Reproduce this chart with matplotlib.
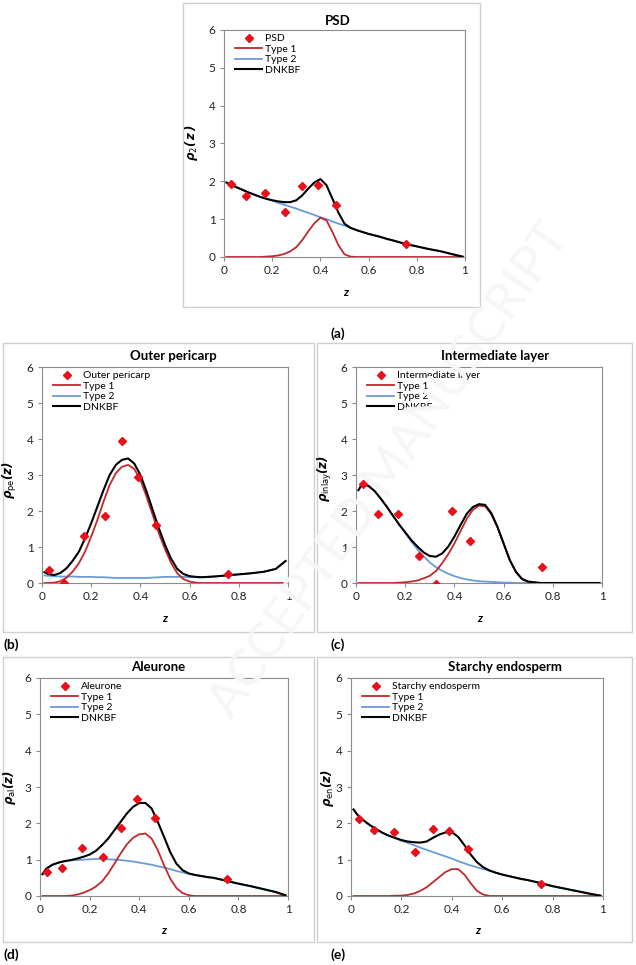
import matplotlib
matplotlib.use('Agg')
import matplotlib.pyplot as plt
from matplotlib.patches import Rectangle

# =============================================================================
# DATA
# =============================================================================

Z = [0.01, 0.025, 0.05, 0.075, 0.1, 0.125, 0.15, 0.175, 0.2, 0.225, 0.25,
     0.275, 0.3, 0.325, 0.35, 0.375, 0.4, 0.425, 0.45, 0.475, 0.5, 0.525,
     0.55, 0.575, 0.6, 0.625, 0.65, 0.675, 0.7, 0.75, 0.8, 0.85, 0.9, 0.95, 0.99]

Z_PTS = [0.03, 0.09, 0.17, 0.255, 0.325, 0.39, 0.465, 0.755]

# (a) PSD
PSD_PTS = [1.92, 1.62, 1.70, 1.19, 1.87, 1.91, 1.37, 0.34]
PSD_T1 = [0, 0, 0, 0, 0, 0, 0, 0.01, 0.02, 0.04, 0.08, 0.15, 0.26, 0.45, 0.68,
          0.89, 1.04, 0.97, 0.66, 0.31, 0.07, 0.01, 0, 0, 0, 0, 0, 0, 0, 0, 0,
          0, 0, 0, 0]
PSD_T2 = [1.97, 1.92, 1.85, 1.78, 1.71, 1.65, 1.59, 1.54, 1.49, 1.43, 1.38,
          1.33, 1.28, 1.22, 1.17, 1.11, 1.05, 1.00, 0.94, 0.88, 0.83, 0.77,
          0.71, 0.66, 0.61, 0.57, 0.53, 0.48, 0.44, 0.35, 0.28, 0.21, 0.15,
          0.07, 0.01]
PSD_FIT = [1.97, 1.92, 1.85, 1.78, 1.71, 1.65, 1.59, 1.54, 1.50, 1.47, 1.45,
           1.45, 1.50, 1.63, 1.81, 1.97, 2.06, 1.90, 1.54, 1.17, 0.88, 0.77,
           0.71, 0.66, 0.61, 0.57, 0.53, 0.48, 0.44, 0.35, 0.28, 0.21, 0.15,
           0.07, 0.01]

# (b) Outer pericarp
PE_PTS = [0.36, 0.0, 1.30, 1.85, 3.94, 2.94, 1.62, 0.25]
PE_T1 = [0, 0, 0.01, 0.05, 0.15, 0.32, 0.55, 0.87, 1.29, 1.75, 2.26, 2.72,
         3.05, 3.23, 3.28, 3.17, 2.86, 2.40, 1.89, 1.38, 0.94, 0.55, 0.27,
         0.11, 0.04, 0.01, 0, 0, 0, 0, 0, 0, 0, 0, 0]
PE_T2 = [0.21, 0.20, 0.19, 0.18, 0.18, 0.18, 0.17, 0.17, 0.17, 0.16, 0.16,
         0.15, 0.14, 0.14, 0.14, 0.14, 0.14, 0.14, 0.15, 0.16, 0.17, 0.17,
         0.17, 0.17, 0.16, 0.16, 0.16, 0.17, 0.18, 0.21, 0.24, 0.27, 0.31,
         0.39, 0.61]
PE_FIT = [0.30, 0.25, 0.22, 0.28, 0.41, 0.62, 0.87, 1.24, 1.66, 2.12, 2.58,
          3.00, 3.28, 3.42, 3.46, 3.32, 3.00, 2.54, 2.03, 1.52, 1.06, 0.67,
          0.39, 0.25, 0.19, 0.17, 0.16, 0.17, 0.18, 0.21, 0.24, 0.27, 0.31,
          0.39, 0.61]

# (c) Intermediate layer
IL_PTS = [2.74, 1.91, 1.92, 0.75, -0.02, 2.00, 1.18, 0.44]
IL_T1 = [0, 0, 0, 0, 0, 0, 0, 0.01, 0.02, 0.04, 0.07, 0.13, 0.20, 0.33, 0.55,
         0.80, 1.10, 1.44, 1.78, 2.03, 2.15, 2.13, 1.91, 1.55, 1.09, 0.64,
         0.31, 0.11, 0.03, 0, 0, 0, 0, 0, 0]
IL_T2 = [2.58, 2.75, 2.70, 2.56, 2.35, 2.12, 1.87, 1.62, 1.39, 1.15, 0.93,
         0.74, 0.57, 0.44, 0.34, 0.26, 0.19, 0.14, 0.10, 0.07, 0.05, 0.04,
         0.03, 0.02, 0.01, 0.01, 0, 0, 0, 0, 0, 0, 0, 0, 0]
IL_FIT = [2.58, 2.75, 2.70, 2.56, 2.35, 2.12, 1.87, 1.63, 1.41, 1.19, 1.01,
          0.85, 0.75, 0.73, 0.82, 1.01, 1.29, 1.61, 1.92, 2.11, 2.19, 2.17,
          1.94, 1.56, 1.10, 0.64, 0.31, 0.11, 0.04, 0, 0, 0, 0, 0, 0]

# (d) Aleurone
AL_PTS = [0.65, 0.78, 1.33, 1.07, 1.87, 2.67, 2.14, 0.47]
AL_T1 = [0, 0, 0, 0, 0, 0.01, 0.04, 0.09, 0.16, 0.26, 0.40, 0.62, 0.89, 1.17,
         1.42, 1.60, 1.70, 1.72, 1.58, 1.26, 0.85, 0.48, 0.22, 0.08, 0.02, 0,
         0, 0, 0, 0, 0, 0, 0, 0, 0]
AL_T2 = [0.60, 0.75, 0.86, 0.92, 0.96, 0.98, 0.99, 1.00, 1.01, 1.02, 1.02,
         1.01, 1.00, 0.99, 0.97, 0.95, 0.92, 0.89, 0.86, 0.82, 0.78, 0.74,
         0.69, 0.65, 0.61, 0.58, 0.55, 0.52, 0.50, 0.42, 0.34, 0.27, 0.19,
         0.11, 0.02]
AL_FIT = [0.60, 0.75, 0.86, 0.92, 0.96, 0.99, 1.03, 1.08, 1.14, 1.24, 1.40,
          1.58, 1.81, 2.04, 2.27, 2.45, 2.56, 2.56, 2.41, 2.04, 1.63, 1.21,
          0.89, 0.71, 0.62, 0.58, 0.55, 0.52, 0.50, 0.42, 0.34, 0.27, 0.19,
          0.11, 0.02]

# (e) Starchy endosperm
EN_PTS = [2.12, 1.81, 1.77, 1.20, 1.85, 1.78, 1.29, 0.34]
EN_T1 = [0, 0, 0, 0, 0, 0, 0, 0.01, 0.01, 0.03, 0.07, 0.14, 0.24, 0.38, 0.52,
         0.66, 0.74, 0.74, 0.59, 0.35, 0.14, 0.04, 0, 0, 0, 0, 0, 0, 0, 0, 0,
         0, 0, 0, 0]
EN_T2 = [2.38, 2.24, 2.08, 1.95, 1.84, 1.74, 1.66, 1.59, 1.52, 1.46, 1.40,
         1.33, 1.27, 1.21, 1.15, 1.09, 1.03, 0.96, 0.90, 0.84, 0.79, 0.74,
         0.70, 0.64, 0.59, 0.55, 0.51, 0.47, 0.44, 0.36, 0.27, 0.20, 0.13,
         0.06, 0.01]
EN_FIT = [2.38, 2.24, 2.08, 1.95, 1.84, 1.74, 1.66, 1.60, 1.54, 1.50, 1.48,
          1.47, 1.50, 1.60, 1.69, 1.75, 1.76, 1.63, 1.40, 1.14, 0.93, 0.79,
          0.70, 0.64, 0.59, 0.55, 0.51, 0.47, 0.44, 0.36, 0.27, 0.20, 0.13,
          0.06, 0.01]

# =============================================================================
# LAYOUT (figure pixels)
# =============================================================================

W, H = 636, 965
FONT = 'Lato'

C_PTS = '#e8101a'
C_T1 = '#c0282b'
C_T2 = '#6b9bd6'
C_FIT = '#000000'
C_FRAME = '#cfcfcf'


def fx(x):
    return x / W


def fy(y):
    return 1 - y / H


def panel(fig, box, frame, data, title, title_xy, ylab, ylab_xy, xlab_xy, tag, tag_xy):
    x0, y0, x1, y1 = box
    ax = fig.add_axes([fx(x0), fy(y1), fx(x1) - fx(x0), fy(y0) - fy(y1)])
    ax.patch.set_alpha(0)

    fr = Rectangle((fx(frame[0]), fy(frame[3])), fx(frame[2]) - fx(frame[0]),
                   fy(frame[1]) - fy(frame[3]), transform=fig.transFigure,
                   fill=False, edgecolor=C_FRAME, linewidth=1.0, zorder=0)
    fig.patches.append(fr)

    pts, t1, t2, fit, name = data
    ax.plot(Z_PTS, pts, linestyle='none', marker='D', markersize=4.2,
            color=C_PTS, label=name, zorder=5)
    ax.plot(Z, t1, color=C_T1, linewidth=1.3, label='Type 1', zorder=3)
    ax.plot(Z, t2, color=C_T2, linewidth=1.3, label='Type 2', zorder=2)
    ax.plot(Z, fit, color=C_FIT, linewidth=1.5, label='DNKBF', zorder=4)

    ax.set_xlim(0, 1)
    ax.set_ylim(0, 6)
    ax.set_xticks([0, 0.2, 0.4, 0.6, 0.8, 1])
    ax.set_xticklabels(['0', '0.2', '0.4', '0.6', '0.8', '1'])
    ax.set_yticks(range(7))
    for s in ax.spines.values():
        s.set_color('#8c8c8c')
        s.set_linewidth(0.8)
    ax.tick_params(axis='both', direction='out', length=3, width=0.8,
                   color='#8c8c8c', labelsize=8.5, pad=3, labelcolor='#222222')
    for lab in ax.get_xticklabels() + ax.get_yticklabels():
        lab.set_family(FONT)

    leg = ax.legend(loc='upper left', bbox_to_anchor=(0.02, 1.01), frameon=False,
                    fontsize=7.5, handlelength=2.6, handletextpad=0.3,
                    labelspacing=0.12, borderaxespad=0.2)
    for t in leg.get_texts():
        t.set_family(FONT)

    fig.text(fx(title_xy[0]), fy(title_xy[1]), title, ha='center', va='center',
             fontsize=9.5, fontweight='bold', family=FONT)
    fig.text(fx(ylab_xy[0]), fy(ylab_xy[1]), ylab, ha='center', va='center',
             rotation=90, fontsize=8.5)
    fig.text(fx(xlab_xy[0]), fy(xlab_xy[1]), 'z', ha='center', va='center',
             fontsize=8.5, fontweight='bold', fontstyle='italic', family=FONT)
    fig.text(fx(tag_xy[0]), fy(tag_xy[1]), tag, ha='center', va='center',
             fontsize=10, fontweight='bold', family=FONT)
    return ax


def main():
    plt.rcParams['mathtext.fontset'] = 'custom'
    plt.rcParams['mathtext.bf'] = 'DejaVu Sans:italic:bold'
    plt.rcParams['mathtext.rm'] = 'DejaVu Sans'

    fig = plt.figure(figsize=(W / 100, H / 100), dpi=100)

    # faint watermark
    fig.text(fx(390), fy(470), 'ACCEPTED MANUSCRIPT', ha='center', va='center',
             rotation=55, fontsize=36, color='#f6f6f6', family=FONT, zorder=0)

    panel(fig, (224, 30, 465, 257), (183, 3, 480, 307),
          (PSD_PTS, PSD_T1, PSD_T2, PSD_FIT, 'PSD'),
          'PSD', (338, 21), r'$\mathbf{\rho}_{\mathrm{2}}\mathbf{(\,z\,)}$', (192, 143),
          (346, 293), '(a)', (338, 334))

    panel(fig, (42, 367, 288, 583), (3, 343, 314, 632),
          (PE_PTS, PE_T1, PE_T2, PE_FIT, 'Outer pericarp'),
          'Outer pericarp', (173, 356), r'$\mathbf{\rho}_{\mathrm{pe}}\mathbf{(z)}$', (10, 480),
          (165, 618), '(b)', (11, 645))

    panel(fig, (356, 367, 602, 583), (317, 343, 632, 632),
          (IL_PTS, IL_T1, IL_T2, IL_FIT, 'Intermediate layer'),
          'Intermediate layer', (495, 356), r'$\mathbf{\rho}_{\mathrm{inlay}}\mathbf{(z)}$', (325, 478),
          (480, 618), '(c)', (338, 645))

    panel(fig, (40, 678, 288, 896), (3, 657, 314, 942),
          (AL_PTS, AL_T1, AL_T2, AL_FIT, 'Aleurone'),
          'Aleurone', (158, 667), r'$\mathbf{\rho}_{\mathrm{al}}\mathbf{(z)}$', (10, 788),
          (164, 930), '(d)', (11, 955))

    panel(fig, (351, 678, 603, 896), (317, 657, 632, 942),
          (EN_PTS, EN_T1, EN_T2, EN_FIT, 'Starchy endosperm'),
          'Starchy endosperm', (505, 667), r'$\mathbf{\rho}_{\mathrm{en}}\mathbf{(z)}$', (327, 788),
          (478, 930), '(e)', (338, 955))

    fig.savefig('out.png', dpi=100)
    plt.close(fig)


if __name__ == '__main__':
    main()
